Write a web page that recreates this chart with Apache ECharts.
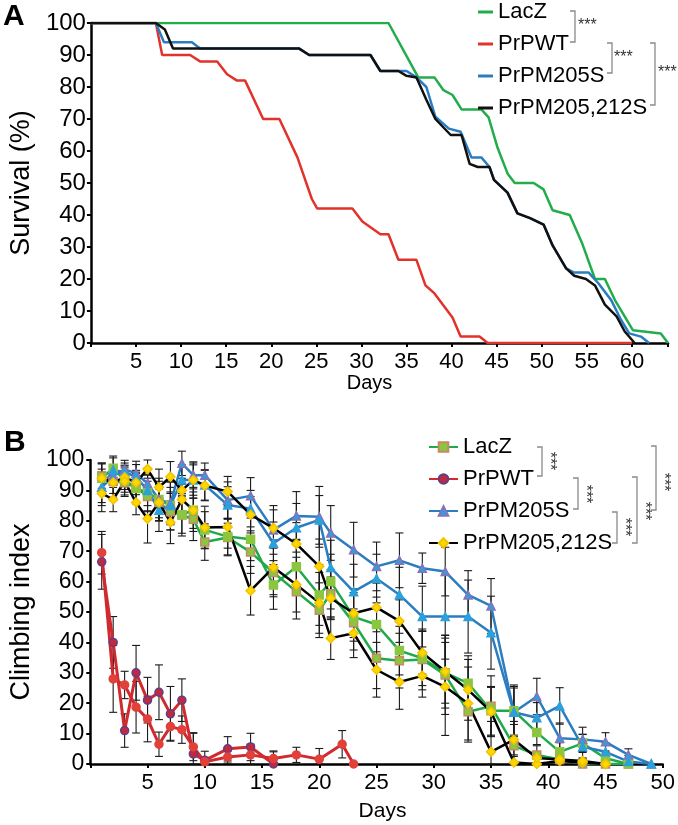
<!DOCTYPE html>
<html>
<head>
<meta charset="utf-8">
<script src="https://cdn.jsdelivr.net/npm/echarts@6/dist/echarts.min.js"></script>
<style>
html, body { margin: 0; padding: 0; background: #fff; }
#main { width: 678px; height: 825px; }
</style>
</head>
<body>
<div id="main"></div>
<script>
var FONT = 'Liberation Sans, Arial, sans-serif';
var genotypes = ['LacZ', 'PrPWT', 'PrPM205S', 'PrPM205,212S'];

// ---- panel A: survival (%) by day, [day, percent]
var survLacZ = [[0,100],[33,100],[36.3,83],[38.1,83],[39.1,79],[40.1,77.5],[41.1,73],[43.3,73],[44.1,70.5],
  [45.1,61],[46.2,53],[47,50],[49.1,50],[50.2,48],[51.2,41.5],[53.1,40],[54.5,31],[55.9,20],[57,20],
  [58.1,13.5],[60.1,4],[63.2,3],[64,0]];
var survWT = [[0,100],[7.2,100],[7.9,90],[11,90],[12.1,88],[14,88],[15.1,84],[16.2,82],[17.1,82],[19.1,70],
  [20.9,70],[22.9,58],[24.5,45],[25.1,42],[29,42],[30.1,38],[32.1,34],[33,34],[34.1,26],[36.1,26],
  [37.1,18],[38.1,15.5],[40.1,8],[41,2],[43.1,2],[44,0],[60,0]];
var survM205 = [[0,100],[7.2,100],[8.1,94],[11.2,94],[12.1,92],[23.1,92],[24.2,90],[31,90],[32.1,85],[34.1,85],
  [35,85],[36.1,83],[37.2,80],[38.2,70.7],[39.7,67],[41,66],[42.2,58],[43.3,58],[44.2,55],[44.7,51],
  [46.2,47],[47.3,40.5],[48.7,39],[50.2,37],[51.2,30.5],[52.7,23.3],[53.6,22],[55.2,22],[56.3,18.6],
  [57.7,13.4],[58.8,7.2],[59.7,3],[61,2],[61.9,0]];
var survM205212 = [[0,100],[7.2,100],[8.2,98],[9.1,92],[23.1,92],[24.2,90],[31,90],[32.1,85],[34.1,85],
  [35,83.5],[36.1,83],[37.2,76],[38.2,70],[39.9,65],[41.1,65],[42,56],[42.9,55],[44.2,55],[44.7,51],
  [46.2,47],[47.3,40.5],[48.7,39],[50.2,37],[51.2,30.5],[52.7,23.3],[53.6,21],[54.9,20],[55.9,18],
  [57,12],[58.3,8.3],[59.2,3.6],[60.3,0]];

// ---- panel B: climbing index, two replicates per genotype
var climbDays = [1,2,3,4,5,6,7,8,9,10,12,14,16,18,20,21,23,25,27,29,31,33,35,37,39,41,43,45,47,49];
var redDays1 = [1,2,3,4,5,6,7,8,9,10,12,14,16];
var redDays2 = [1,2,3,4,5,6,7,8,9,10,12,14,16,18,20,22,23];

var lacz1 = [94.7,93,92.5,91,88,86,83,81.9,80.5,73,74.5,69.7,63,56.7,50.6,56,46.5,34.8,34,34.4,29.3,17.2,19,6,3,1.5,0,0,0];
var lacz2 = [94,97.3,93.4,90.6,89.3,87,85,82,83.5,77,74.8,73.9,58.9,64.9,55.6,60,48.4,45.9,37.3,34.8,30,26.6,17.5,17.5,10.4,4,6.8,1.9,0];
var wt1 = [66.5,40,11,30,21,23.6,16.5,21,3.3,1.2,5,5.6,0];
var wt2 = [69.5,28,26,18.7,14.8,6.5,12.3,11.3,5.6,0.7,2.3,3,1.8,3,1.6,6.5,0];
var m205a = [91,94.7,96.9,95.6,92.3,87,85.7,98.9,95,95,86.8,88.2,77,81.6,81.3,76,70.5,65,67,64.4,63.3,55.6,52,17,22.2,8.5,8.1,7.3,3,0];
var m205b = [91,96.7,96,94.5,90,83.5,85,93.4,93.4,91.8,85.2,84,72.6,77.7,80.3,64.6,56.7,61,55.7,48.5,48.5,48.5,43.2,17,15.2,19.1,5.7,4,0.8,0];
var m212a = [94,92.6,94.3,92.6,97,91,94.5,90,93.4,91.6,89.6,82,77.6,72.4,65,54.5,49.6,51.5,47,36.6,30.4,24.4,17.2,0.5,0,1,0.5,0];
var m212b = [89,87,93,86,80.7,86,79.5,87,83.5,77.8,78,57,64.7,59,53,41.4,43,31,27,29,25.4,19.9,4,8,2,1.5,1,0];

// error bar half lengths (same order as the values above)
var lacz1Err = [4,4,4,5,5,6,6,6,7,6,6,7,8,9,9,8,9,10,9,10,13,10,10,8,3,2,1,1,0];
var lacz2Err = [5,4,4,5,6,6,6,7,6,6,6,7,8,9,10,9,8,9,8,9,10,9,8,8,4,3,3,2,0];
var wt1Err = [9,8.5,5.5,9,7.5,9,9,7,7,3,4,4.5,4];
var wt2Err = [7,11,4.5,8.5,7.5,4,4.5,4.5,4.5,1.5,2,3.5,2.5,2.5,3.5,4.5,0];
var m205aErr = [5,3,3,4,5,7,7,4,4,4,6,6,8,8,10,9,9,8,9,5,8,8,9,9,6,5,4,3,2,0];
var m205bErr = [6,4,3,4,5,7,8,5,5,5,6,6,7,8,8,9,9,8,9,10,14,12,12,8,5,6,4,3,2,0];
var m212aErr = [5,5,4,4,3,6,5,4,6,5,5,6,6,7,9,7,8,8,7,7,12,10,8,2,0,1,1,0];
var m212bErr = [6,4,5,4,8,6,7,5,7,7,7,8,9,9,10,7,8,9,9,7,16,12,10,5,2,1,1,0];

function pairs(days, vals) {
    var out = [];
    for (var i = 0; i < vals.length; i++) out.push([days[i], vals[i]]);
    return out;
}

function errData(days, vals, errs) {
    var out = [];
    for (var i = 0; i < vals.length; i++) {
        if (!errs[i]) continue;
        out.push([days[i], Math.max(0, vals[i] - errs[i]), vals[i] + errs[i]]);
    }
    return out;
}

var allErr = [].concat(
    errData(climbDays, lacz1, lacz1Err), errData(climbDays, lacz2, lacz2Err),
    errData(redDays1, wt1, wt1Err), errData(redDays2, wt2, wt2Err),
    errData(climbDays, m205a, m205aErr), errData(climbDays, m205b, m205bErr),
    errData(climbDays, m212a, m212aErr), errData(climbDays, m212b, m212bErr)
);

function renderErr(params, api) {
    var x = api.value(0);
    var lo = api.coord([x, api.value(1)]);
    var hi = api.coord([x, api.value(2)]);
    var w = 4;
    var st = { stroke: '#1a1a1a', lineWidth: 1.1 };
    return {
        type: 'group',
        children: [
            { type: 'line', shape: { x1: lo[0], y1: lo[1], x2: hi[0], y2: hi[1] }, style: st },
            { type: 'line', shape: { x1: lo[0] - w, y1: lo[1], x2: lo[0] + w, y2: lo[1] }, style: st },
            { type: 'line', shape: { x1: hi[0] - w, y1: hi[1], x2: hi[0] + w, y2: hi[1] }, style: st }
        ]
    };
}

function bracket(x, y1, y2) {
    return {
        type: 'polyline',
        shape: { points: [[x - 5, y1], [x, y1], [x, y2], [x - 5, y2]] },
        style: { stroke: '#8a8a8a', lineWidth: 1.3, fill: null }
    };
}
function stars(x, y, vertical) {
    return {
        type: 'text', x: x, y: y, rotation: vertical ? -Math.PI / 2 : 0,
        style: {
            text: '***', font: '16px ' + FONT, fill: '#333',
            align: vertical ? 'center' : 'left', verticalAlign: vertical ? 'middle' : 'top'
        }
    };
}

function axisCommon() {
    return {
        axisLine: { show: true, lineStyle: { color: '#000', width: 2.5 } },
        axisTick: { show: true, length: 4, lineStyle: { color: '#000', width: 2 } },
        splitLine: { show: false },
        nameLocation: 'middle',
        nameTextStyle: { color: '#000', fontFamily: FONT }
    };
}

function hideZero(v) {
    return (v === 0 || v % 5 !== 0) ? '' : String(v);
}

var xA = axisCommon();
Object.assign(xA, {
    type: 'value', gridIndex: 0, min: 0, max: 64, interval: 5,
    name: 'Days', nameGap: 26,
    axisLabel: { fontSize: 22, color: '#000', fontFamily: FONT, margin: 8, formatter: hideZero }
});
xA.nameTextStyle.fontSize = 20;
xA.nameTextStyle.padding = [0, 20, 0, 0];

var yA = axisCommon();
Object.assign(yA, {
    type: 'value', gridIndex: 0, min: 0, max: 100, interval: 10,
    name: 'Survival (%)', nameGap: 44,
    axisLabel: { fontSize: 24, color: '#000', fontFamily: FONT, margin: 5 }
});
yA.nameTextStyle.fontSize = 27;

var xB = axisCommon();
Object.assign(xB, {
    type: 'value', gridIndex: 1, min: 0, max: 50, interval: 5,
    name: 'Days', nameGap: 37,
    axisLabel: { fontSize: 22, color: '#000', fontFamily: FONT, margin: 8, formatter: hideZero }
});
xB.nameTextStyle.fontSize = 21;
xB.nameTextStyle.padding = [0, 0, 0, 12];

var yB = axisCommon();
Object.assign(yB, {
    type: 'value', gridIndex: 1, min: 0, max: 100, interval: 10,
    name: 'Climbing index', nameGap: 42,
    axisLabel: { fontSize: 23, color: '#000', fontFamily: FONT, margin: 6 }
});
yB.nameTextStyle.fontSize = 27;

function survLine(name, data, color) {
    return {
        name: 'A ' + name, type: 'line', xAxisIndex: 0, yAxisIndex: 0,
        data: data, symbol: 'none', color: color,
        lineStyle: { color: color, width: 2.5 }
    };
}

function climbLine(name, days, vals, sym, lineColor, fill, border, width) {
    return {
        name: name, type: 'line', xAxisIndex: 1, yAxisIndex: 1,
        data: pairs(days, vals), symbol: sym, symbolSize: sym === 'diamond' ? 9 : 8,
        lineStyle: { color: lineColor, width: width || 2.5 },
        itemStyle: { color: fill, borderColor: border, borderWidth: 1.5 }
    };
}

var legendText = { fontSize: 22, lineHeight: 22, color: '#000', fontFamily: FONT };

var option = {
    animation: false,
    backgroundColor: '#fff',
    grid: [
        { left: 77, right: 10, top: 23, bottom: 482 },
        { left: 81, right: 8, top: 460, bottom: 61 }
    ],
    xAxis: [xA, xB],
    yAxis: [yA, yB],
    legend: [
        {
            data: genotypes.map(function (g) { return 'A ' + g; }),
            orient: 'vertical', left: 478, top: 1, padding: 0, itemGap: 10,
            itemWidth: 15, itemHeight: 3, icon: 'rect', selectedMode: false,
            textStyle: legendText,
            formatter: function (n) { return n.replace(/^A /, ''); }
        },
        {
            data: genotypes,
            orient: 'vertical', left: 428, top: 436, padding: 0, itemGap: 10,
            itemWidth: 29, itemHeight: 12, selectedMode: false,
            textStyle: legendText
        }
    ],
    graphic: [
        { type: 'text', x: 3, y: 2, style: { text: 'A', font: 'bold 30px ' + FONT, fill: '#000' } },
        { type: 'text', x: 4, y: 428, style: { text: 'B', font: 'bold 30px ' + FONT, fill: '#000' } },
        bracket(575, 11, 42), stars(578, 18, false),
        bracket(612, 43, 73), stars(614, 50, false),
        bracket(655, 43, 105), stars(658, 65, false),
        bracket(542, 447, 476), stars(549, 461, true),
        bracket(578, 478, 509), stars(585, 494, true),
        bracket(617, 512, 543), stars(624, 527, true),
        bracket(637, 477, 543), stars(644, 511, true),
        bracket(656, 446, 510), stars(663, 482, true)
    ],
    series: [
        survLine('LacZ', survLacZ, '#22ac4b'),
        survLine('PrPWT', survWT, '#e2322c'),
        survLine('PrPM205S', survM205, '#2a7dc1'),
        survLine('PrPM205,212S', survM205212, '#111111'),
        {
            name: 'err', type: 'custom', xAxisIndex: 1, yAxisIndex: 1,
            data: allErr, renderItem: renderErr, encode: { x: 0, y: [1, 2] }, z: 1
        },
        climbLine('PrPWT', redDays1, wt1, 'circle', '#d02a2f', '#c22a3c', '#5b3f8f', 3),
        climbLine('PrPWT', redDays2, wt2, 'circle', '#d02a2f', '#e2403a', '#e2403a', 3),
        climbLine('LacZ', climbDays, lacz1, 'rect', '#1fa94a', '#8cc63f', '#c48a63'),
        climbLine('LacZ', climbDays, lacz2, 'rect', '#1fa94a', '#8cc63f', '#8cc63f'),
        climbLine('PrPM205S', climbDays, m205a, 'triangle', '#2a7dc1', '#2ba1dc', '#8a70b8'),
        climbLine('PrPM205S', climbDays, m205b, 'triangle', '#2a7dc1', '#2ba1dc', '#2ba1dc'),
        climbLine('PrPM205,212S', climbDays, m212a, 'diamond', '#000000', '#ffd800', '#f2c200'),
        climbLine('PrPM205,212S', climbDays, m212b, 'diamond', '#000000', '#ffd800', '#f2c200')
    ]
};

var chart = echarts.init(document.getElementById('main'), null, { renderer: 'canvas' });
chart.setOption(option);
</script>
</body>
</html>
